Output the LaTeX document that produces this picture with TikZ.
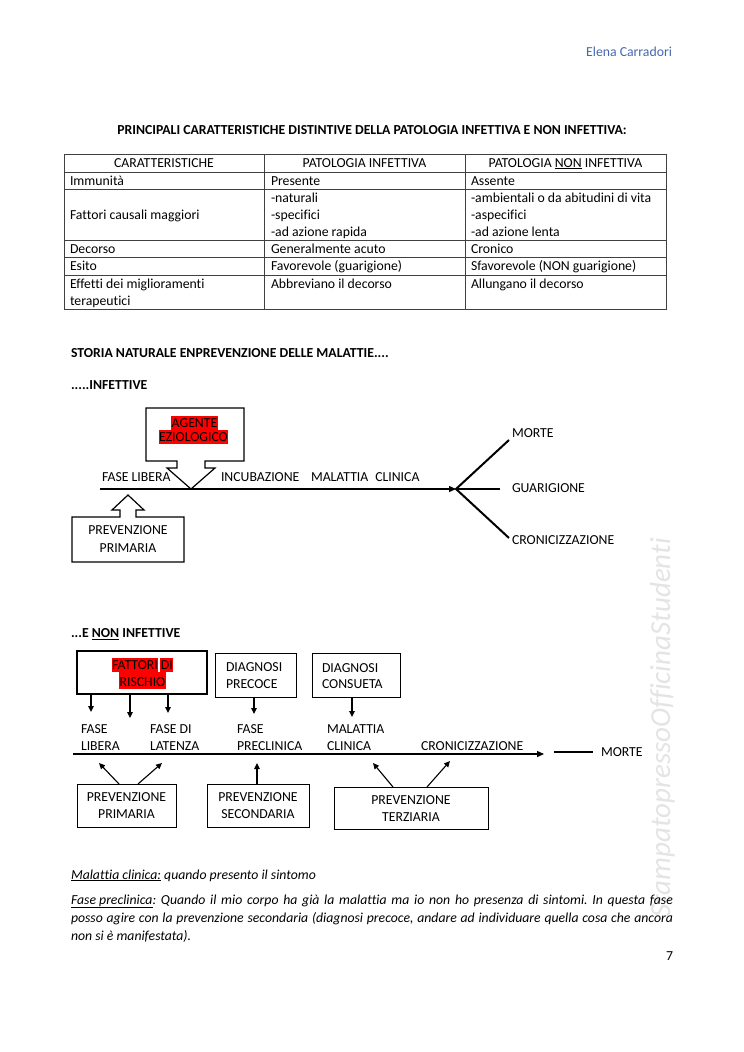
\documentclass[tikz,border=0pt]{standalone}
\usepackage{fontspec}
\setmainfont{Carlito}[Ligatures=NoCommon]
\usetikzlibrary{arrows.meta}
\definecolor{hdrblue}{RGB}{68,104,176}
\definecolor{hlred}{RGB}{255,0,0}
\definecolor{wmgrey}{RGB}{228,228,228}
\newcommand\fsn{\fontsize{13.75}{16.5}\selectfont}
\frenchspacing
\begin{document}
\begin{tikzpicture}[x=1pt,y=-1pt,
  every node/.style={inner sep=0pt, outer sep=0pt, font=\fsn},
  txt/.style={anchor=base west},
  ctxt/.style={anchor=base},
  tline/.style={line width=0.8pt, draw=black!75},
  boxb/.style={draw, line width=1pt},
  arr/.style={line width=1.1pt, -{Triangle[length=6pt,width=5.5pt]}},
  tl/.style={line width=1.3pt, -{Triangle[length=7pt,width=6pt]}}]

\useasboundingbox (0,0) rectangle (744,1052);
\fill[white] (0,0) rectangle (744,1052);

% watermark
\node[rotate=90, anchor=base east, text=wmgrey, font=\fontsize{29}{29}\selectfont\itshape] (wm) at (670,538) {StampatopressoOfficinaStudenti};

% header
\node[anchor=base east, text=hdrblue] (author) at (672,56) {Elena Carradori};
\node[ctxt, font=\fsn\bfseries] (title) at (372,134.5) {PRINCIPALI CARATTERISTICHE DISTINTIVE DELLA PATOLOGIA INFETTIVA E NON INFETTIVA:};

% table
\draw[tline] (64,154) rectangle (666,309);
\foreach \yy in {172,189,240,257,275} \draw[tline] (64,\yy) -- (666,\yy);
\draw[tline] (264,154) -- (264,309);
\draw[tline] (465,154) -- (465,309);

\node[ctxt] (h1) at (164,167) {CARATTERISTICHE};
\node[ctxt] (h2) at (364.5,167) {PATOLOGIA INFETTIVA};
\node[ctxt] (h3) at (565.5,167) {PATOLOGIA \underline{NON} INFETTIVA};

\node[txt] (r1a) at (70,185) {Immunità};
\node[txt] (r1b) at (271,185) {Presente};
\node[txt] (r1c) at (471,185) {Assente};

\node[txt] (r2a) at (70,219) {Fattori causali maggiori};
\node[txt] (r2b1) at (271,202) {-naturali};
\node[txt] (r2b2) at (271,219) {-specifici};
\node[txt] (r2b3) at (271,236) {-ad azione rapida};
\node[txt] (r2c1) at (471,202) {-ambientali o da abitudini di vita};
\node[txt] (r2c2) at (471,219) {-aspecifici};
\node[txt] (r2c3) at (471,236) {-ad azione lenta};

\node[txt] (r3a) at (70,253) {Decorso};
\node[txt] (r3b) at (271,253) {Generalmente acuto};
\node[txt] (r3c) at (471,253) {Cronico};

\node[txt] (r4a) at (70,270) {Esito};
\node[txt] (r4b) at (271,270) {Favorevole (guarigione)};
\node[txt] (r4c) at (471,270) {Sfavorevole (NON guarigione)};

\node[txt] (r5a1) at (70,288) {Effetti dei miglioramenti};
\node[txt] (r5a2) at (70,305) {terapeutici};
\node[txt] (r5b) at (271,288) {Abbreviano il decorso};
\node[txt] (r5c) at (471,288) {Allungano il decorso};

% section headings
\node[txt, font=\fsn\bfseries] (storia) at (71,357) {STORIA NATURALE ENPREVENZIONE DELLE MALATTIE....};
\node[txt, font=\fsn\bfseries] (infh) at (71,389.5) {.....INFETTIVE};

% ---------- diagram 1 ----------
\draw[line width=1.2pt, line join=miter] (146,408) -- (244,408) -- (244,461) -- (205,461) -- (205,468) -- (215,468) -- (191,489) -- (167,468) -- (177,468) -- (177,461) -- (146,461) -- cycle;
\fill[hlred] (171,416) rectangle (218,430);
\fill[hlred] (159,430) rectangle (228,444);
\node[ctxt] (agente) at (194.5,427) {AGENTE};
\node[ctxt] (ezio) at (193.5,441) {EZIOLOGICO};

\draw[line width=1.2pt, line join=miter] (72,517) -- (120,517) -- (120,510) -- (112,510) -- (128,495) -- (144,510) -- (136,510) -- (136,517) -- (184,517) -- (184,562) -- (72,562) -- cycle;
\node[ctxt] (pp1a) at (128,534.5) {PREVENZIONE};
\node[ctxt] (pp1b) at (128,552.5) {PRIMARIA};

\coordinate (t1s) at (100,489);
\coordinate (br) at (456,489);
\draw[tl] (t1s) -- (br);
\node[txt] (fl1) at (102,481.5) {FASE LIBERA};
\node[txt] (inc1) at (221,481.5) {INCUBAZIONE};
\node[txt] (mc1) at (311,481.5) {MALATTIA\enspace CLINICA};

\coordinate (bm) at (509,440);
\coordinate (bg) at (500,489);
\coordinate (bc) at (509,538);
\draw[line width=2pt] (bm) -- (br) -- (bc);
\draw[line width=2pt] (br) -- (bg);
\node[txt] (morte1) at (512,437.5) {MORTE};
\node[txt] (guar1) at (512,492.5) {GUARIGIONE};
\node[txt] (cron1) at (512,544.5) {CRONICIZZAZIONE};

% ---------- diagram 2 ----------
\node[txt, font=\fsn\bfseries] (noninf) at (71,637.5) {...E \underline{NON} INFETTIVE};

\node[draw, line width=1.5pt, minimum width=130pt, minimum height=43pt] (fatt) at (142,672.5) {};
\fill[hlred] (112,658) rectangle (158,672);
\fill[hlred] (160,658) rectangle (173,672);
\fill[hlred] (119,672) rectangle (166,689);
\node[ctxt] (fatt1) at (142.5,669.5) {FATTORI DI};
\node[ctxt] (fatt2) at (142.5,686) {RISCHIO};

\node[boxb, minimum width=81pt, minimum height=44pt] (prec) at (255.5,675) {};
\node[txt] (prec1) at (226,671) {DIAGNOSI};
\node[txt] (prec2) at (226,688) {PRECOCE};

\node[boxb, minimum width=88pt, minimum height=44pt] (cons) at (356,675) {};
\node[txt] (cons1) at (322,672) {DIAGNOSI};
\node[txt] (cons2) at (322,688) {CONSUETA};

\draw[arr] ([xshift=14pt]fatt.south west) -- ++(0,18);
\draw[arr] ([xshift=53pt]fatt.south west) -- ++(0,24);
\draw[arr] ([xshift=91pt]fatt.south west) -- ++(0,19);
\draw[arr] ([xshift=-1.5pt]prec.south) -- ++(0,17);
\draw[arr] ([xshift=-4pt]cons.south) -- ++(0,20);

\node[txt] (fl2a) at (81,733.5) {FASE};
\node[txt] (fl2b) at (81,750.5) {LIBERA};
\node[txt] (lat2a) at (150,733.5) {FASE DI};
\node[txt] (lat2b) at (150,750.5) {LATENZA};
\node[txt] (pre2a) at (237,733.5) {FASE};
\node[txt] (pre2b) at (237,750.5) {PRECLINICA};
\node[txt] (mc2a) at (327,733.5) {MALATTIA};
\node[txt] (mc2b) at (327,750.5) {CLINICA};
\node[txt] (cron2) at (421,750.5) {CRONICIZZAZIONE};

\coordinate (t2s) at (73,754);
\coordinate (t2e) at (544,754);
\draw[tl] (t2s) -- (t2e);
\coordinate (ms) at (554,752);
\node[txt] (morte2) at (601,756) {MORTE};
\draw[line width=2pt] (ms) -- ([xshift=-8pt]morte2.base west |- ms);

\node[boxb, minimum width=99pt, minimum height=43pt] (prim2) at (126.5,805.5) {};
\node[ctxt] (prim2a) at (126.5,801) {PREVENZIONE};
\node[ctxt] (prim2b) at (126.5,818.5) {PRIMARIA};

\node[boxb, minimum width=102pt, minimum height=43pt] (sec2) at (258,805.5) {};
\node[ctxt] (sec2a) at (258,801) {PREVENZIONE};
\node[ctxt] (sec2b) at (258,818.5) {SECONDARIA};

\node[boxb, minimum width=154pt, minimum height=42pt] (ter2) at (411,808) {};
\node[ctxt] (ter2a) at (411,804.5) {PREVENZIONE};
\node[ctxt] (ter2b) at (411,821) {TERZIARIA};

\draw[arr] ([xshift=-7.5pt]prim2.north) -- ++(-20,-21);
\draw[arr] ([xshift=11.5pt]prim2.north) -- ++(24,-21);
\draw[arr] ([xshift=-1pt]sec2.north) -- ++(0,-21);
\draw[arr] ([xshift=-18pt]ter2.north) -- ++(-20,-24);
\draw[arr] ([xshift=16pt]ter2.north) -- ++(23,-26);

% bottom text
\node[txt, font=\fsn\itshape] (nota1) at (71,879) {\underline{Malattia clinica:} quando presento il sintomo};
\node[txt, font=\fsn\itshape] (nota2) at (71,904) {\makebox[602pt][s]{\underline{Fase preclinica}: Quando il mio corpo ha già la malattia ma io non ho presenza di sintomi. In questa fase}};
\node[txt, font=\fsn\itshape] (nota3) at (71,922) {\makebox[602pt][s]{posso agire con la prevenzione secondaria (diagnosi precoce, andare ad individuare quella cosa che ancora}};
\node[txt, font=\fsn\itshape] (nota4) at (71,940) {non si è manifestata).};
\node[anchor=base east] (pnum) at (673,960) {7};
\end{tikzpicture}
\end{document}
